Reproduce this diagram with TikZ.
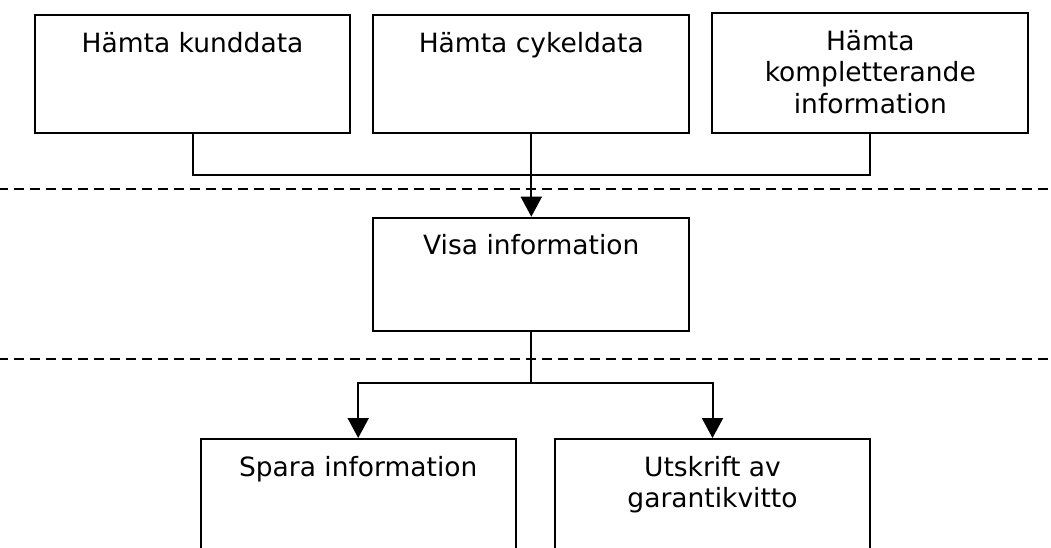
\documentclass[tikz,border=0pt]{standalone}
\usepackage{fontspec}
\setmainfont{DejaVu Sans}
\usetikzlibrary{arrows.meta}

% Box content: text set at the top of a fixed-size frame
\newcommand\topbox[3]{\parbox[c][#2][t]{#1}{\centering\fontsize{26.5}{31.5}\selectfont\rule{0pt}{37pt}#3}}

\begin{document}
\begin{tikzpicture}[x=1pt, y=-1pt,
    stepbox/.style={draw, line width=2pt, inner sep=0pt},
    link/.style={line width=2pt},
    flow/.style={line width=2pt, -{Triangle[width=21pt,length=20pt]}},
    divider/.style={line width=2pt, dash pattern=on 10pt off 6pt, dash phase=2pt}]
  \clip (0,0) rectangle (1051,547);

  % Gathering stage
  \node[stepbox] (kund)  at (192.5,74)  {\topbox{315pt}{118pt}{Hämta kunddata}};
  \node[stepbox] (cykel) at (531.3,74)  {\topbox{316pt}{118pt}{Hämta cykeldata}};
  \node[stepbox] (komp)  at (870.3,73)  {\topbox{316pt}{120pt}{Hämta\\kompletterande\\information}};

  % Presentation stage
  \node[stepbox] (visa)  at (531.3,274.2) {\topbox{316pt}{113pt}{Visa information}};

  % Output stage (frames run past the lower edge)
  \node[stepbox] (spara) at (358.2,519.5) {\topbox{315pt}{161pt}{Spara information}};
  \node[stepbox] (kvitto) at (712.5,519.5) {\topbox{315pt}{161pt}{Utskrift av\\garantikvitto}};

  % Stage dividers
  \draw[divider] (0,189) -- (1051,189);
  \draw[divider] (0,359.3) -- (1051,359.3);

  % Junctions
  \coordinate (j1) at (531.3,175);
  \coordinate (j2) at (531.3,382.7);

  % Connectors
  \draw[link] (kund.south) |- (j1) -| (komp.south);
  \draw[flow] (cykel.south) -- (visa.north);
  \draw[link] (visa.south) -- (j2);
  \draw[flow] (j2) -| (spara.north);
  \draw[flow] (j2) -| (kvitto.north);
\end{tikzpicture}
\end{document}
